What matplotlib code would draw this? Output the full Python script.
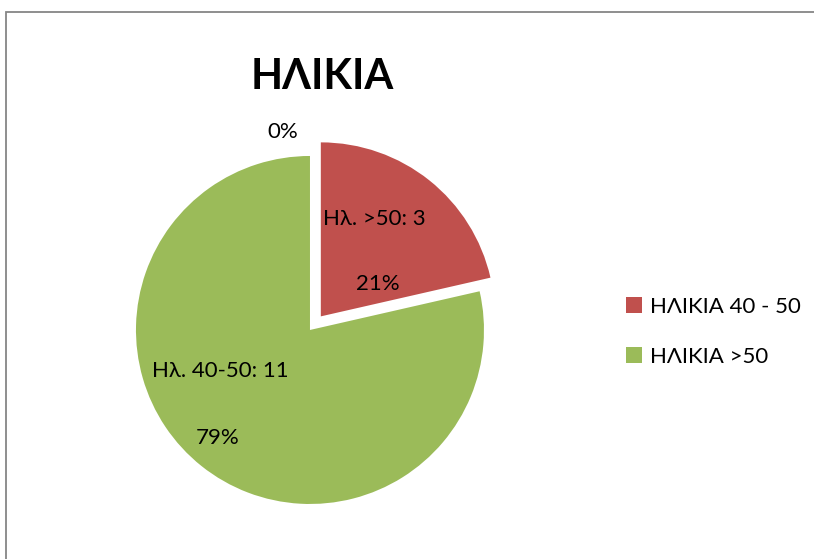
import matplotlib.pyplot as plt
from matplotlib.patches import Rectangle

# δεδομένα
legend_labels = ['ΗΛΙΚΙΑ 40 - 50', 'ΗΛΙΚΙΑ >50']
slice_names = ['Ηλ. >50', 'Ηλ. 40-50']
counts = [3, 11]
zero_pct = '0%'
colors = ['#C0504D', '#9BBB59']

plt.rcParams['font.family'] = ['Lato', 'Open Sans', 'DejaVu Sans']

fig = plt.figure(figsize=(8.14, 5.59), dpi=100)

# πλαίσιο
fig.patches.append(Rectangle((6 / 814, -0.1), 1.2, (559 - 12) / 559 + 0.1,
                             transform=fig.transFigure, fill=False,
                             edgecolor='#868686', linewidth=1.3))

ax = fig.add_axes([0.1351, 0.0519, 0.4914, 0.7156])

labels = ['%s: %d' % (n, c) for n, c in zip(slice_names, counts)]
wedges, texts, autotexts = ax.pie(counts, colors=colors, labels=labels,
                                  startangle=90, counterclock=False,
                                  explode=[0.1, 0], autopct='%1.0f%%',
                                  textprops={'fontsize': 16})
lim = 200 / 174
ax.set_xlim(-lim, lim)
ax.set_ylim(-lim, lim)
ax.set_aspect('equal')
ax.axis('off')

# θέσεις ετικετών
name_pos = [(0.372, 0.635), (-0.517, -0.235)]
pct_pos = [(0.39, 0.262), (-0.53, -0.62)]
for t, p in zip(texts, name_pos):
    t.set_position(p)
    t.set_ha('center')
    t.set_va('center')
for t, p in zip(autotexts, pct_pos):
    t.set_position(p)
ax.text(-0.155, 1.135, zero_pct, fontsize=16, ha='center', va='center')

fig.text(322 / 814, 1 - 77 / 559, 'ΗΛΙΚΙΑ', fontsize=30, fontweight='bold',
         ha='center', va='center')

fig.legend(wedges, legend_labels, loc='upper left',
           bbox_to_anchor=(606 / 814, 1 - 277 / 559), frameon=False,
           fontsize=16, handlelength=0.7, handleheight=0.7,
           handletextpad=0.4, labelspacing=1.35)

fig.savefig('out.png', dpi=100)
